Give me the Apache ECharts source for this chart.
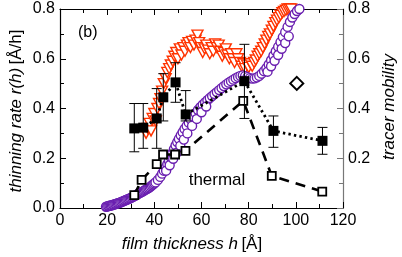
<!DOCTYPE html>
<html><head><meta charset="utf-8">
<script src="https://cdn.jsdelivr.net/npm/echarts@6/dist/echarts.min.js"></script>
<style>html,body{margin:0;padding:0;background:#fff}#c{width:402px;height:257px}</style>
</head><body><div id="c"></div>
<script>
// ---- data ----
var xTicks = [0, 20, 40, 60, 80, 100, 120];
var yTicks = [0.0, 0.2, 0.4, 0.6, 0.8];

// thinning rate r(h): purple open circles
var rateH = [19.5,20,20.5,21,21.5,22,22.5,23,23.5,24,24.5,25,25.5,26,26.5,27,27.5,28,28.5,29,29.5,30,30.5,31,31.5,32,32.5,33,33.5,34,34.5,35,35.5,36,36.5,37,37.5,38,38.5,39,39.5,40,40.5,41.5,42.5,43.3,44,44.8,45.5,46.2,46.9,47.6,48.3,49,49.7,50.4,51.2,52,52.8,53.7,54.6,55.5,56.5,57.5,58.5,59.5,60.5,61.5,62.5,63.5,64.5,65.5,66.5,67.5,68.5,69.5,70.5,71.5,72.5,73.5,74.5,75.5,76.5,77.5,78.5,79.5,80.5,81.5,82.5,83.5,84.5,85.5,86.5,87.5,88.5,89.5,90.5,91.5,92.5,93.5,94.5,95.5,96.5,97.5,98.5,99.5,100.5,101.5,102.5,
  45,46.5,48,49.5,51,52.5,54,56,58,60,62,88,89.5,91,92.5,94,95.5,97];
var rateV = [0.005,0.006,0.008,0.009,0.010,0.011,0.013,0.014,0.016,0.017,0.019,0.020,0.022,0.024,0.026,0.028,0.030,0.032,0.034,0.036,0.038,0.040,0.043,0.045,0.048,0.050,0.053,0.056,0.059,0.061,0.064,0.066,0.069,0.072,0.075,0.077,0.080,0.083,0.087,0.091,0.095,0.099,0.103,0.113,0.125,0.138,0.150,0.163,0.176,0.190,0.205,0.220,0.236,0.252,0.265,0.278,0.292,0.305,0.318,0.330,0.343,0.355,0.368,0.381,0.394,0.405,0.415,0.424,0.433,0.442,0.450,0.458,0.466,0.474,0.482,0.490,0.497,0.504,0.510,0.516,0.522,0.527,0.531,0.533,0.530,0.526,0.522,0.520,0.521,0.525,0.531,0.540,0.550,0.562,0.577,0.594,0.612,0.630,0.648,0.667,0.687,0.707,0.728,0.748,0.766,0.780,0.792,0.800,0.803,
  0.150,0.172,0.198,0.222,0.250,0.275,0.300,0.330,0.358,0.385,0.408,0.548,0.570,0.592,0.615,0.640,0.663,0.690];

// tracer mobility: orange inverted triangles
var mobH = [36.5,37.2,38,38.6,39.3,40,40.6,41.3,42,42.6,43.3,44,44.8,45.5,46.3,47,47.8,48.5,49.3,50,50.8,51.5,52.3,53,53.8,54.5,55.3,56,56.8,57.5,58.3,59,59.8,60.5,61.3,62,62.8,63.5,64.3,65,65.8,66.5,67.3,68,68.8,69.5,70.3,71,71.8,72.5,73.3,74,74.8,75.5,76.3,77,77.8,78.5,79.3,80,80.8,81.5,82.3,83,83.8,84.5,85.3,86,86.8,87.5,88.3,89,89.8,90.5,91.3,92,92.8,93.5,94.3,95,95.8,96.5,97.3,98];
var mobV = [0.30,0.32,0.34,0.31,0.36,0.38,0.35,0.40,0.42,0.44,0.47,0.50,0.52,0.545,0.56,0.575,0.59,0.61,0.625,0.60,0.64,0.615,0.645,0.63,0.655,0.665,0.645,0.67,0.655,0.675,0.695,0.665,0.645,0.625,0.64,0.655,0.635,0.62,0.645,0.63,0.66,0.645,0.655,0.63,0.61,0.625,0.64,0.615,0.60,0.62,0.60,0.585,0.62,0.60,0.585,0.57,0.58,0.56,0.575,0.565,0.58,0.57,0.585,0.595,0.61,0.62,0.63,0.645,0.66,0.675,0.69,0.70,0.715,0.73,0.745,0.755,0.765,0.775,0.785,0.79,0.795,0.80,0.80,0.80];

// filled squares with error bars (dotted)
var fillH = [31.5, 35.3, 41, 43.8, 49, 53.3, 78.2, 90.5, 111.3];
var fillV = [0.32, 0.323, 0.36, 0.445, 0.505, 0.376, 0.51, 0.31, 0.27];
var fillLo = [0.226, 0.24, 0.24, 0.35, 0.425, 0.35, 0.36, 0.244, 0.216];
var fillHi = [0.42, 0.42, 0.48, 0.54, 0.584, 0.472, 0.658, 0.37, 0.324];

// open squares, "thermal" (dashed)
var openH = [31.5, 34.6, 41, 43.7, 48.8, 53.2, 77.7, 89.8, 111.2];
var openV = [0.052, 0.113, 0.176, 0.215, 0.215, 0.23, 0.431, 0.129, 0.066];

// open diamond
var diamH = [100.4];
var diamV = [0.501];

// ---- chart ----
function zip(a, b) { return a.map(function (v, i) { return [v, b[i]]; }); }
var F = 'Liberation Sans, Arial, Helvetica, sans-serif';
var chart = echarts.init(document.getElementById('c'), null, {renderer: 'canvas'});

function xAx(pos, show) {
  return {
    type: 'value', position: pos, min: xTicks[0], max: xTicks[xTicks.length - 1], interval: 20,
    axisLine: {show: true, onZero: false, lineStyle: {color: '#000', width: 1.2}},
    axisTick: {show: true, inside: true, length: 6, lineStyle: {color: '#000', width: 1}},
    minorTick: {show: true, splitNumber: 2, length: 4, lineStyle: {color: '#000', width: 1}},
    axisLabel: {show: show, color: '#000', fontFamily: F, fontSize: 16, margin: 5},
    splitLine: {show: false}, minorSplitLine: {show: false}
  };
}
function yAx(pos, color, hideZero) {
  return {
    type: 'value', position: pos, min: yTicks[0], max: yTicks[yTicks.length - 1], interval: 0.2,
    axisLine: {show: true, onZero: false, lineStyle: {color: color, width: 1.2}},
    axisTick: {show: true, inside: true, length: 6, lineStyle: {color: color, width: 1}},
    minorTick: {show: true, splitNumber: 2, length: 4, lineStyle: {color: color, width: 1}},
    axisLabel: {show: true, color: '#000', fontFamily: F, fontSize: 16, margin: 5,
      formatter: function (v) { return (hideZero && v === 0) ? '' : v.toFixed(1); }},
    splitLine: {show: false}, minorSplitLine: {show: false}
  };
}

var option = {
  animation: false,
  backgroundColor: '#fff',
  grid: {left: 60, right: 59, top: 9, bottom: 49, containLabel: false},
  xAxis: [xAx('bottom', true), xAx('top', false)],
  yAxis: [yAx('left', '#000', false), yAx('right', '#777', true)],
  series: [
    {
      type: 'scatter', name: 'mobility', data: zip(mobH, mobV), z: 2,
      symbol: 'triangle', symbolRotate: 180, symbolSize: [11, 10],
      itemStyle: {color: '#fff', borderColor: '#ff3300', borderWidth: 1.4, opacity: 1}
    },
    {
      type: 'scatter', name: 'rate', data: zip(rateH, rateV), z: 3,
      symbol: 'circle', symbolSize: 9,
      itemStyle: {color: '#fff', borderColor: '#6a1fb0', borderWidth: 1.4, opacity: 1}
    },
    {
      type: 'line', name: 'thermal', data: zip(openH, openV), z: 4,
      symbol: 'rect', symbolSize: 8, showSymbol: true,
      lineStyle: {color: '#000', width: 2.6, type: [10, 7]},
      itemStyle: {color: '#fff', borderColor: '#000', borderWidth: 1.8, opacity: 1}
    },
    {
      type: 'line', name: 'filled', data: zip(fillH, fillV), z: 5,
      symbol: 'none',
      lineStyle: {color: '#000', width: 2.8, type: [2.4, 3.2]}
    },
    {
      type: 'custom', name: 'err', z: 6,
      data: fillH.map(function (h, i) { return [h, fillLo[i], fillHi[i]]; }),
      encode: {x: 0, y: [1, 2]},
      renderItem: function (params, api) {
        var lo = api.coord([api.value(0), api.value(1)]);
        var hi = api.coord([api.value(0), api.value(2)]);
        var w = 5;
        var st = {stroke: '#000', lineWidth: 1};
        return {type: 'group', children: [
          {type: 'line', shape: {x1: lo[0], y1: lo[1], x2: hi[0], y2: hi[1]}, style: st},
          {type: 'line', shape: {x1: lo[0] - w, y1: lo[1], x2: lo[0] + w, y2: lo[1]}, style: st},
          {type: 'line', shape: {x1: hi[0] - w, y1: hi[1], x2: hi[0] + w, y2: hi[1]}, style: st}
        ]};
      }
    },
    {
      type: 'scatter', name: 'filledPts', data: zip(fillH, fillV), z: 7,
      symbol: 'rect', symbolSize: 10,
      itemStyle: {color: '#000', opacity: 1}
    },
    {
      type: 'scatter', name: 'diamond', data: zip(diamH, diamV), z: 7,
      symbol: 'diamond', symbolSize: [13, 13],
      itemStyle: {color: '#fff', borderColor: '#000', borderWidth: 2, opacity: 1}
    }
  ],
  graphic: [
    {type: 'text', left: 78, top: 25, style: {text: '(b)', fontFamily: F, fontSize: 16, fill: '#000'}},
    {type: 'text', x: 217, y: 180, style: {text: 'thermal', fontFamily: F, fontSize: 17, fill: '#000', align: 'center', verticalAlign: 'middle'}},
    {type: 'text', x: 192, y: 244, style: {
      text: '{i|film thickness h} {n|[Å]}', align: 'center', verticalAlign: 'middle',
      rich: {i: {fontFamily: F, fontSize: 17, fontStyle: 'italic', fill: '#000'}, n: {fontFamily: F, fontSize: 17, fill: '#000'}}}},
    {type: 'text', x: 16, y: 111, rotation: Math.PI / 2, style: {
      text: '{i|thinning rate r(h)} {n|[Å/h]}', align: 'center', verticalAlign: 'middle',
      rich: {i: {fontFamily: F, fontSize: 17, fontStyle: 'italic', fill: '#000'}, n: {fontFamily: F, fontSize: 17, fill: '#000'}}}},
    {type: 'text', x: 389, y: 107, rotation: Math.PI / 2, style: {
      text: 'tracer mobility', align: 'center', verticalAlign: 'middle',
      fontFamily: F, fontSize: 17, fontStyle: 'italic', fill: '#000'}}
  ]
};
chart.setOption(option);
</script>
</body></html>
